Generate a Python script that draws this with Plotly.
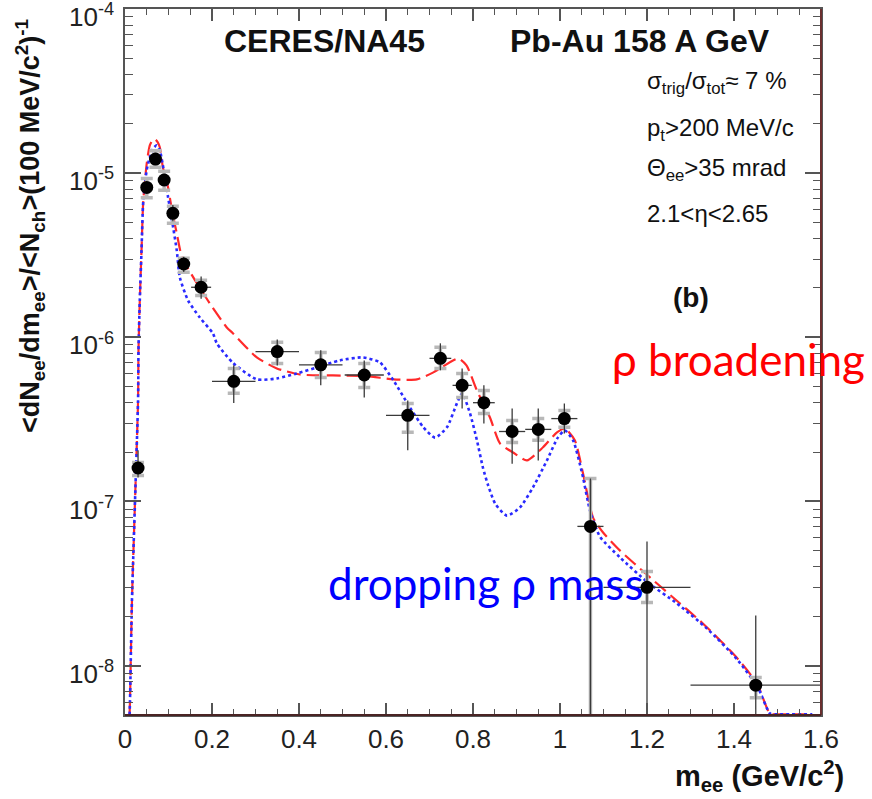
import numpy as np
import plotly.graph_objects as go

# CERES/NA45 Pb-Au 158 A GeV dielectron invariant-mass spectrum
m_ee = [0.03, 0.05, 0.07, 0.09, 0.11, 0.135, 0.175, 0.25, 0.35, 0.45, 0.55,
        0.65, 0.725, 0.775, 0.825, 0.89, 0.95, 1.01, 1.07, 1.2, 1.45]
m_halfwidth = [0.008, 0.008, 0.008, 0.008, 0.008, 0.012, 0.023, 0.05, 0.05, 0.05, 0.045,
               0.05, 0.025, 0.022, 0.025, 0.03, 0.03, 0.03, 0.03, 0.1, 0.15]
yield_ee = [1.6e-7, 8.2e-6, 1.22e-5, 9.1e-6, 5.7e-6, 2.8e-6, 2.02e-6, 5.4e-7, 8.2e-7, 6.8e-7, 5.9e-7,
            3.35e-7, 7.45e-7, 5.1e-7, 4.0e-7, 2.67e-7, 2.75e-7, 3.2e-7, 7.05e-8, 3.0e-8, 7.6e-9]
# statistical error band edges
stat_hi = [2.05e-7, 8.8e-6, 1.31e-5, 9.8e-6, 6.4e-6, 3.1e-6, 2.35e-6, 6.76e-7, 9.7e-7, 8.34e-7, 7.24e-7,
           4.13e-7, 9.2e-7, 6.47e-7, 5.1e-7, 3.69e-7, 3.69e-7, 3.96e-7, 1.38e-7, 5.7e-8, 2.02e-8]
stat_lo = [1.4e-7, 7.6e-6, 1.13e-5, 8.4e-6, 5.1e-6, 2.5e-6, 1.72e-6, 3.98e-7, 6.75e-7, 5.1e-7, 4.3e-7,
           2.05e-7, 6.3e-7, 3.69e-7, 2.99e-7, 1.7e-7, 1.78e-7, 2.6e-7, 1.0e-9, 1.0e-9, 1.0e-9]
# systematic error edges
sys_hi = [1.73e-7, 9.3e-6, 1.37e-5, 1.03e-5, 6.3e-6, 3.03e-6, 2.23e-6, 6.47e-7, 9.33e-7, 8.1e-7, 6.93e-7,
          3.96e-7, 8.7e-7, 6.03e-7, 4.75e-7, 3.12e-7, 3.2e-7, 3.59e-7, 1.38e-7, 3.74e-8, 8.45e-9]
sys_lo = [1.44e-7, 7.1e-6, 1.09e-5, 7.87e-6, 4.96e-6, 2.49e-6, 1.8e-6, 4.56e-7, 6.93e-7, 5.7e-7, 4.95e-7,
          2.64e-7, 6.47e-7, 4.3e-7, 3.44e-7, 2.29e-7, 2.36e-7, 2.83e-7, 1.0e-9, 2.42e-8, 6.38e-9]

# model: in-medium rho broadening
m_broad = [0.0105, 0.0115, 0.016, 0.023, 0.030, 0.031, 0.034, 0.038, 0.042, 0.050, 0.057, 0.064,
           0.069, 0.075, 0.080, 0.087, 0.099, 0.108, 0.119, 0.131, 0.157, 0.195, 0.234, 0.248,
           0.303, 0.349, 0.402, 0.478, 0.556, 0.617, 0.671, 0.709, 0.766, 0.785, 0.809, 0.839,
           0.862, 0.892, 0.924, 0.961, 0.993, 1.011, 1.034, 1.053, 1.076, 1.099, 1.138, 1.202,
           1.260, 1.329, 1.406, 1.453, 1.483, 1.50, 1.58]
y_broad = [5.0e-9, 6.1e-9, 2.5e-8, 1.0e-7, 4.1e-7, 8.3e-7, 1.68e-6, 3.4e-6, 6.8e-6, 1.15e-5, 1.48e-5, 1.6e-5,
           1.61e-5, 1.55e-5, 1.44e-5, 1.09e-5, 8.2e-6, 5.94e-6, 4.3e-6, 3.08e-6, 2.32e-6, 1.61e-6, 1.15e-6, 1.06e-6,
           7.55e-7, 6.47e-7, 5.94e-7, 5.86e-7, 5.8e-7, 5.55e-7, 5.55e-7, 6.12e-7, 7.44e-7, 6.75e-7, 4.75e-7, 3.25e-7,
           2.26e-7, 1.99e-7, 1.78e-7, 2.14e-7, 2.64e-7, 2.79e-7, 2.36e-7, 1.48e-7, 7.98e-8, 6.47e-8, 5.02e-8, 3.54e-8,
           2.6e-8, 1.8e-8, 1.12e-8, 7.76e-9, 5.09e-9, 5.05e-9, 5.05e-9]

# model: dropping rho mass
m_drop = [0.0105, 0.0115, 0.016, 0.023, 0.030, 0.031, 0.034, 0.038, 0.042, 0.050, 0.057, 0.065,
          0.073, 0.080, 0.087, 0.099, 0.108, 0.119, 0.126, 0.145, 0.172, 0.202, 0.211, 0.248,
          0.303, 0.349, 0.395, 0.441, 0.494, 0.547, 0.586, 0.617, 0.655, 0.686, 0.713, 0.740,
          0.763, 0.775, 0.793, 0.809, 0.823, 0.835, 0.851, 0.878, 0.908, 0.938, 0.970, 0.995,
          1.011, 1.030, 1.051, 1.069, 1.092, 1.138, 1.202, 1.269, 1.338, 1.406, 1.455, 1.483,
          1.50, 1.58]
y_drop = [5.0e-9, 6.1e-9, 2.5e-8, 1.0e-7, 4.1e-7, 8.3e-7, 1.68e-6, 3.4e-6, 6.8e-6, 1.05e-5, 1.25e-5, 1.42e-5,
          1.48e-5, 1.38e-5, 1.12e-5, 7.15e-6, 5.17e-6, 3.39e-6, 2.32e-6, 1.68e-6, 1.32e-6, 1.06e-6, 9.2e-7, 7.0e-7,
          5.55e-7, 5.62e-7, 6.03e-7, 6.56e-7, 7.24e-7, 7.55e-7, 7.04e-7, 5.47e-7, 3.74e-7, 2.83e-7, 2.45e-7, 2.83e-7,
          3.96e-7, 4.56e-7, 3.45e-7, 2.36e-7, 1.6e-7, 1.25e-7, 9.7e-8, 8.2e-8, 9.2e-8, 1.22e-7, 1.78e-7, 2.45e-7,
          2.71e-7, 2.36e-7, 1.48e-7, 8.8e-8, 6.1e-8, 4.56e-8, 3.21e-8, 2.39e-8, 1.68e-8, 1.1e-8, 7.35e-9, 5.1e-9,
          5.05e-9, 5.05e-9]

x_ticks = [0, 0.2, 0.4, 0.6, 0.8, 1.0, 1.2, 1.4, 1.6]
x_ticktext = ["0", "0.2", "0.4", "0.6", "0.8", "1", "1.2", "1.4", "1.6"]
y_ticks = [1e-8, 1e-7, 1e-6, 1e-5, 1e-4]
y_ticktext = ["10<sup>-8</sup>", "10<sup>-7</sup>", "10<sup>-6</sup>", "10<sup>-5</sup>", "10<sup>-4</sup>"]

FONT = "Liberation Sans, Arial, Helvetica, sans-serif"
y = np.array(yield_ee)

fig = go.Figure()

fig.add_trace(go.Scatter(
    x=m_broad, y=y_broad, mode="lines",
    line=dict(color="#ff2a2a", width=2.2, dash="14px,6px", shape="spline", smoothing=0.6),
    hoverinfo="skip", showlegend=False))
fig.add_trace(go.Scatter(
    x=m_drop, y=y_drop, mode="lines",
    line=dict(color="#2a2aff", width=2.6, dash="3px,3px", shape="spline", smoothing=0.6),
    hoverinfo="skip", showlegend=False))

# systematic errors (grey brackets)
fig.add_trace(go.Scatter(
    x=m_ee, y=yield_ee, mode="markers", marker=dict(size=1, color="rgba(0,0,0,0)"),
    error_y=dict(type="data", symmetric=False,
                 array=np.array(sys_hi) - y, arrayminus=y - np.array(sys_lo),
                 color="#b8b8b8", thickness=3.5, width=6),
    hoverinfo="skip", showlegend=False))

# statistical errors and data points
fig.add_trace(go.Scatter(
    x=m_ee, y=yield_ee, mode="markers",
    marker=dict(size=13, color="black"),
    error_y=dict(type="data", symmetric=False,
                 array=np.array(stat_hi) - y, arrayminus=y - np.array(stat_lo),
                 color="#3a3a3a", thickness=1.3, width=0),
    error_x=dict(type="data", array=m_halfwidth, color="#3a3a3a", thickness=1.3, width=0),
    showlegend=False))

axis_common = dict(ticks="inside", mirror="ticks", showline=True, linewidth=1.5,
                   linecolor="#555555", tickcolor="#555555", showgrid=False, zeroline=False,
                   ticklabeloverflow="allow", automargin=False,
                   tickfont=dict(family=FONT, size=26, color="#222222"))

fig.update_xaxes(range=[0, 1.6], tickmode="array", tickvals=x_ticks, ticktext=x_ticktext,
                 ticklen=12, tickwidth=1.5,
                 minor=dict(dtick=0.05, ticks="inside", ticklen=6, tickwidth=1.2, tickcolor="#555555"),
                 **axis_common)
fig.update_yaxes(type="log", range=[np.log10(5e-9), -3.999], tickmode="array",
                 tickvals=y_ticks, ticktext=y_ticktext, ticklen=16, tickwidth=1.5,
                 ticklabelshift=8, ticklabelstandoff=4,
                 minor=dict(dtick="D1", ticks="inside", ticklen=8, tickwidth=1.2, tickcolor="#555555"),
                 **axis_common)

# frame edges on the right and bottom
fig.add_shape(type="line", xref="paper", yref="paper", x0=1, x1=1, y0=0, y1=1,
              line=dict(color="#6b2f2f", width=2))
fig.add_shape(type="line", xref="paper", yref="paper", x0=0, x1=1, y0=0, y1=0,
              line=dict(color="#4a2424", width=2))


def px(xp):
    return (xp - 125) / 696.0


def py(yp):
    return (715 - yp) / 706.0


def note(text, xp, yp, size, bold=False, color="#111111", xanchor="center", family=FONT, angle=0):
    fig.add_annotation(text=f"<b>{text}</b>" if bold else text,
                       xref="paper", yref="paper", x=px(xp), y=py(yp),
                       xanchor=xanchor, yanchor="middle", showarrow=False, textangle=angle,
                       font=dict(family=family, size=size, color=color))


note("CERES/NA45", 324, 41, 32, bold=True)
note("Pb-Au 158 A GeV", 640, 41, 32, bold=True)
note("σ<sub>trig</sub>/σ<sub>tot</sub>≈ 7 %", 645, 82, 24, xanchor="left")
note("p<sub>t</sub>>200 MeV/c", 645, 129, 24, xanchor="left")
note("Θ<sub>ee</sub>>35 mrad", 645, 169, 24, xanchor="left")
note("2.1<η<2.65", 645, 214, 24, xanchor="left")
note("(b)", 691, 298, 28, bold=True)

note("ρ broadening", 610, 359, 44, color="#ff0000", xanchor="left", family="Lato, Open Sans, sans-serif")
note("dropping ρ mass", 326, 583, 44, color="#0000ff", xanchor="left", family="Lato, Open Sans, sans-serif")

# axis titles
note("m<sub>ee</sub> (GeV/c<sup>2</sup>)", 846, 776, 29, bold=True, xanchor="right")
note("&lt;dN<sub>ee</sub>/dm<sub>ee</sub>&gt;/&lt;N<sub>ch</sub>&gt;(100 MeV/c<sup>2</sup>)<sup>-1</sup>",
     30, 226, 27, bold=True, angle=-90)

fig.update_layout(width=872, height=799, autosize=False,
                  margin=dict(l=125, r=51, t=9, b=84),
                  plot_bgcolor="white", paper_bgcolor="white")

fig.write_html("out.html")
